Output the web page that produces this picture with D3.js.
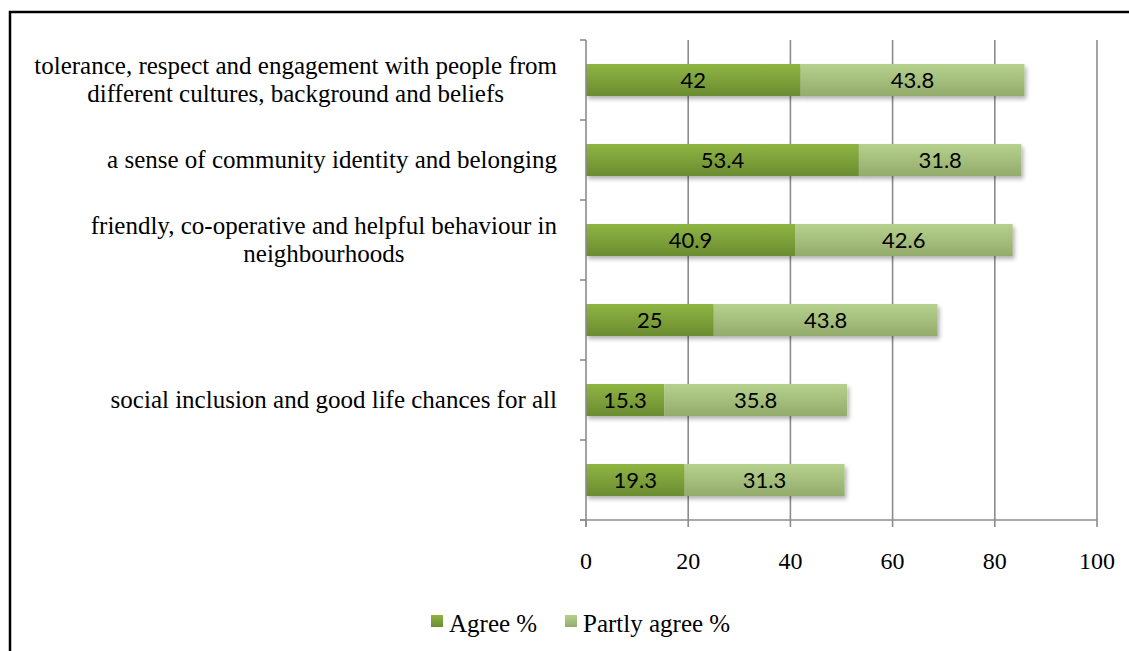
<!DOCTYPE html>
<html><head><meta charset="utf-8">
<script src="https://cdn.jsdelivr.net/npm/d3@7"></script>
<style>body{margin:0;background:#fff;}svg{display:block;}</style>
</head><body>
<script>
const categories = [
  ["tolerance, respect and engagement with people from","different cultures, background and beliefs"],
  ["a sense of community identity and belonging"],
  ["friendly, co-operative and helpful behaviour in","neighbourhoods"],
  [""],
  ["social inclusion and good life chances for all"],
  [""]
];
const agree = [42, 53.4, 40.9, 25, 15.3, 19.3];
const partly = [43.8, 31.8, 42.6, 43.8, 35.8, 31.3];
const xTicks = [0, 20, 40, 60, 80, 100];
const seriesNames = ["Agree %", "Partly agree %"];

const W = 1129, H = 651;
const serif = "'Liberation Serif', 'Times New Roman', serif";
const svg = d3.select("body").append("svg").attr("width", W).attr("height", H);
const defs = svg.append("defs");
function grad(id, top, bot) {
  const g = defs.append("linearGradient").attr("id", id).attr("x1", 0).attr("y1", 0).attr("x2", 0).attr("y2", 1);
  g.append("stop").attr("offset", "0%").attr("stop-color", top);
  g.append("stop").attr("offset", "100%").attr("stop-color", bot);
}
grad("gA", "#8fb542", "#6b8c31");
grad("gP", "#b6d18e", "#93ab6b");
const f = defs.append("filter").attr("id", "sh").attr("x", "-5%").attr("y", "-30%").attr("width", "115%").attr("height", "180%");
f.append("feDropShadow").attr("dx", 2).attr("dy", 3).attr("stdDeviation", 2).attr("flood-color", "#000").attr("flood-opacity", 0.3);

// outer border
svg.append("rect").attr("x", 10).attr("y", 12).attr("width", W + 20).attr("height", H + 20)
  .attr("fill", "none").attr("stroke", "#000").attr("stroke-width", 2.5);

const x = d3.scaleLinear().domain([0, 100]).range([586, 1097]);
const y = d3.scaleBand().domain(d3.range(categories.length)).range([40, 520]).paddingInner(0.6).paddingOuter(0.3);
const band = d3.scaleBand().domain(d3.range(categories.length)).range([40, 520]);

// gridlines
svg.append("g").selectAll("line").data(xTicks.slice(1)).join("line")
  .attr("x1", d => x(d)).attr("x2", d => x(d)).attr("y1", 40).attr("y2", 520)
  .attr("stroke", "#8c8c8c").attr("stroke-width", 1.6);

// bars
const g = svg.append("g");
const lblFont = "Lato, 'Open Sans', sans-serif";
categories.forEach((c, i) => {
  const row = g.append("g").attr("filter", "url(#sh)");
  row.append("rect").attr("x", x(0)).attr("y", y(i)).attr("width", x(agree[i]) - x(0)).attr("height", y.bandwidth()).attr("fill", "url(#gA)");
  row.append("rect").attr("x", x(agree[i])).attr("y", y(i)).attr("width", x(agree[i] + partly[i]) - x(agree[i])).attr("height", y.bandwidth()).attr("fill", "url(#gP)");
  g.append("text").attr("x", (x(0) + x(agree[i])) / 2).attr("y", y(i) + y.bandwidth() / 2 + 8)
    .attr("text-anchor", "middle").attr("font-family", lblFont).attr("font-size", 22).attr("fill", "#000").text(agree[i]);
  g.append("text").attr("x", (x(agree[i]) + x(agree[i] + partly[i])) / 2).attr("y", y(i) + y.bandwidth() / 2 + 8)
    .attr("text-anchor", "middle").attr("font-family", lblFont).attr("font-size", 22).attr("fill", "#000").text(partly[i]);
});

// axes
const axG = svg.append("g").attr("stroke", "#8c8c8c").attr("stroke-width", 1.6);
axG.append("line").attr("x1", x(0)).attr("x2", x(0)).attr("y1", 40).attr("y2", 527);
axG.append("line").attr("x1", 580).attr("x2", x(100)).attr("y1", 520).attr("y2", 520);
const catTicks = d3.range(categories.length + 1).map(i => 40 + i * band.step());
axG.selectAll(".ct").data(catTicks).join("line").attr("x1", 580).attr("x2", x(0)).attr("y1", d => d).attr("y2", d => d);
axG.selectAll(".xt").data(xTicks).join("line").attr("x1", d => x(d)).attr("x2", d => x(d)).attr("y1", 520).attr("y2", 527);

// x tick labels
svg.append("g").selectAll("text").data(xTicks).join("text")
  .attr("x", d => x(d)).attr("y", 569).attr("text-anchor", "middle")
  .attr("font-family", serif).attr("font-size", 24).text(d => d);

// category labels
const labG = svg.append("g").attr("font-family", serif).attr("font-size", 25).attr("fill", "#000");
categories.forEach((lines, i) => {
  const t = labG.append("text").attr("text-anchor", "middle");
  const cy = band(i) + band.step() / 2;
  const lh = 28;
  const spans = lines.map((l, k) => t.append("tspan").attr("y", cy + 8 + (k - (lines.length - 1) / 2) * lh).text(l));
  const wmax = d3.max(spans, s => s.node().getComputedTextLength());
  spans.forEach(s => s.attr("x", 557 - wmax / 2));
});

// legend
const leg = svg.append("g");
const legItems = [{n: seriesNames[0], f: "url(#gA)", x: 431}, {n: seriesNames[1], f: "url(#gP)", x: 565}];
legItems.forEach(d => {
  leg.append("rect").attr("x", d.x).attr("y", 615).attr("width", 12).attr("height", 12).attr("fill", d.f);
  leg.append("text").attr("x", d.x + 18).attr("y", 632).attr("font-family", serif).attr("font-size", 25).text(d.n);
});
</script>
</body></html>
